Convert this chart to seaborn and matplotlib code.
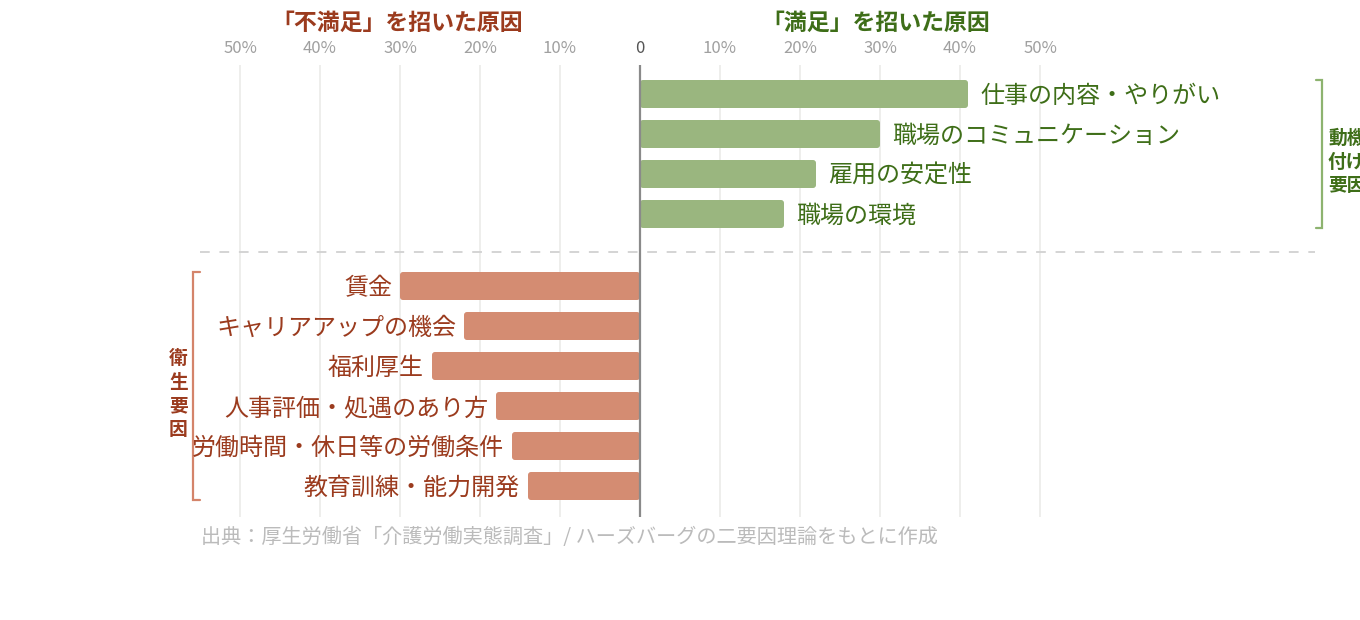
import matplotlib
matplotlib.use("Agg")
import matplotlib.pyplot as plt
import matplotlib.transforms as mtransforms
from matplotlib.patches import FancyBboxPatch
import seaborn as sns
import pandas as pd

# ---- data ----
motivators = ["仕事の内容・やりがい", "職場のコミュニケーション", "雇用の安定性", "職場の環境"]
motivator_values = [41, 30, 22, 18]
hygiene = ["賃金", "キャリアアップの機会", "福利厚生", "人事評価・処遇のあり方",
           "労働時間・休日等の労働条件", "教育訓練・能力開発"]
hygiene_values = [30, 22, 26, 18, 16, 14]
tick_values = [-50, -40, -30, -20, -10, 0, 10, 20, 30, 40, 50]
tick_labels = ["50%", "40%", "30%", "20%", "10%", "0", "10%", "20%", "30%", "40%", "50%"]
title_left = "「不満足」を招いた原因"
title_right = "「満足」を招いた原因"
group_right = "動機\n付け\n要因"
group_left = "衛\n生\n要\n因"
source = "出典：厚生労働省「介護労働実態調査」/ ハーズバーグの二要因理論をもとに作成"

GREEN_BAR = "#9ab67f"
RED_BAR = "#d48c72"
GREEN_TXT = "#3e6e18"
RED_TXT = "#9b3b1e"

sns.set_style("white")
plt.rcParams["font.family"] = ["Noto Sans CJK JP", "DejaVu Sans"]

pos_m = [0, 1, 2, 3]
pos_h = [4.8, 5.8, 6.8, 7.8, 8.8, 9.8]
df = pd.DataFrame({
    "label": motivators + hygiene,
    "value": motivator_values + [-v for v in hygiene_values],
    "pos": pos_m + pos_h,
    "group": ["m"] * len(motivators) + ["h"] * len(hygiene),
})

fig = plt.figure(figsize=(13.6, 6.2), dpi=100)
ax = fig.add_axes([200 / 1360, 1 - 517 / 620, 1115 / 1360, 452 / 620])

sns.barplot(data=df, x="value", y="pos", hue="group", orient="h", native_scale=True,
            palette={"m": GREEN_BAR, "h": RED_BAR}, width=0.7, dodge=False,
            legend=False, ax=ax, saturation=1)

# rounded bars
rects = [p for p in ax.patches]
for p in rects:
    bb = p.get_bbox()
    fc = p.get_facecolor()
    p.remove()
    ax.add_patch(FancyBboxPatch((bb.xmin, bb.ymin), abs(bb.width), abs(bb.height),
                                boxstyle="round,pad=0,rounding_size=0.375",
                                mutation_aspect=0.2, facecolor=fc, edgecolor="none",
                                zorder=3))

ax.set_xlim(-55, 84.375)
ax.set_ylim(10.575, -0.725)
ax.set_xlabel("")
ax.set_ylabel("")
ax.set_yticks([])
for s in ax.spines.values():
    s.set_visible(False)

# grid & zero line
for t in tick_values:
    if t != 0:
        ax.axvline(t, color="#eeeeec", lw=1.4, zorder=0)
ax.axvline(0, color="#8a8a8a", lw=1.6, zorder=4)
ax.axhline(3.95, color="#d4d4d4", lw=1.4, ls=(0, (5, 5)), zorder=1)

# ticks on top
ax.xaxis.tick_top()
ax.set_xticks(tick_values)
ax.set_xticklabels(tick_labels)
ax.tick_params(axis="x", length=0, pad=5.5, labelsize=12)
for lab, v in zip(ax.get_xticklabels(), tick_values):
    lab.set_color("#555555" if v == 0 else "#a0a0a0")

# bar labels
for name, v, y in zip(motivators, motivator_values, pos_m):
    ax.text(v + 1.5, y + 0.05, name, ha="left", va="center", fontsize=17.3, color=GREEN_TXT)
for name, v, y in zip(hygiene, hygiene_values, pos_h):
    ax.text(-v - 1.0, y + 0.05, name, ha="right", va="center", fontsize=17.3, color=RED_TXT)

# titles
tr = mtransforms.blended_transform_factory(ax.transData, fig.transFigure)
fig.text(-30.4, 1 - 23 / 620, title_left, transform=tr, ha="center", va="center",
         fontsize=16.5, fontweight="bold", color=RED_TXT)
fig.text(29.5, 1 - 23 / 620, title_right, transform=tr, ha="center", va="center",
         fontsize=16.5, fontweight="bold", color=GREEN_TXT)

# brackets
ax.plot([84.5, 85.25, 85.25, 84.5], [-0.35, -0.35, 3.35, 3.35], color="#8db36f",
        lw=1.6, clip_on=False, solid_joinstyle="miter")
ax.text(86.0, 1.7, group_right, ha="left", va="center", fontsize=13.5,
        fontweight="bold", color=GREEN_TXT, linespacing=1.3, clip_on=False)
ax.plot([-55.0, -55.875, -55.875, -55.0], [4.45, 4.45, 10.15, 10.15], color="#d4846a",
        lw=1.6, clip_on=False, solid_joinstyle="miter")
ax.text(-57.7, 7.5, group_left, ha="center", va="center", fontsize=13.5,
        fontweight="bold", color=RED_TXT, linespacing=1.3, clip_on=False)

# source
fig.text(201 / 1360, 1 - 537 / 620, source, ha="left", va="center", fontsize=14.5,
         color="#bbbbbb")

fig.savefig("out.png", dpi=100)
